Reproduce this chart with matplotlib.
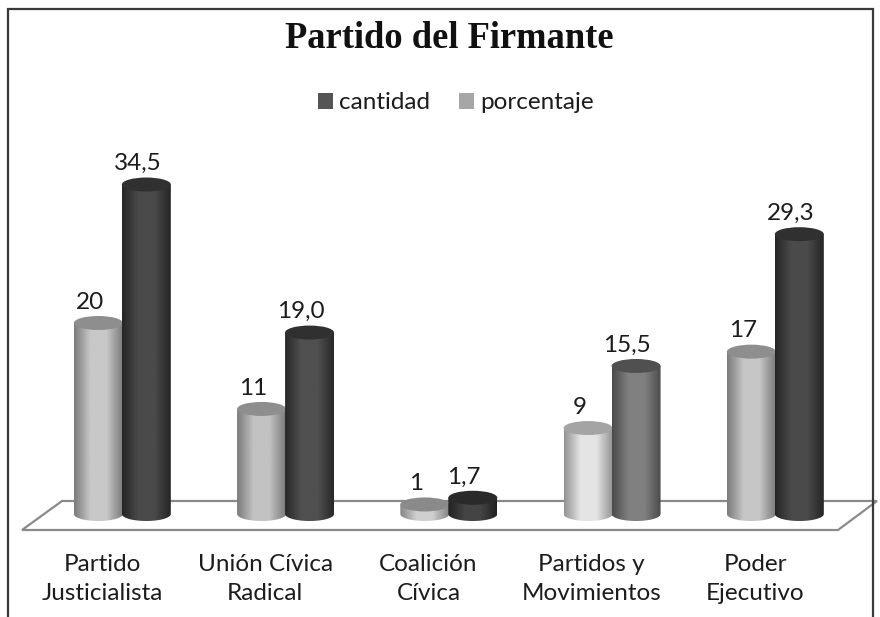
import numpy as np
import matplotlib
matplotlib.use('Agg')
import matplotlib.pyplot as plt
from matplotlib.patches import Ellipse, PathPatch, Polygon, Patch, Rectangle
from matplotlib.path import Path
from matplotlib.colors import LinearSegmentedColormap

categorias = ['Partido\nJusticialista', 'Unión Cívica\nRadical', 'Coalición\nCívica',
              'Partidos y\nMovimientos', 'Poder\nEjecutivo']
porcentaje = [20, 11, 1, 9, 17]
cantidad = [34.5, 19.0, 1.7, 15.5, 29.3]
etiquetas_porcentaje = ['20', '11', '1', '9', '17']
etiquetas_cantidad = ['34,5', '19,0', '1,7', '15,5', '29,3']

# tonos de cada cilindro: borde, centro, tapa
tonos_porcentaje = [('#7c7c7c', '#c8c8c8', '#8e8e8e'), ('#7c7c7c', '#c2c2c2', '#8e8e8e'),
                    ('#868686', '#cfcfcf', '#8a8a8a'), ('#949494', '#e4e4e4', '#a4a4a4'),
                    ('#7c7c7c', '#c6c6c6', '#8e8e8e')]
tonos_cantidad = [('#262626', '#4a4a4a', '#303030'), ('#282828', '#505050', '#303030'),
                  ('#222222', '#444444', '#2a2a2a'), ('#4c4c4c', '#808080', '#505050'),
                  ('#262626', '#4a4a4a', '#303030')]

W, H = 880, 617
PX_X = 163.25
PX_Y = 9.55
BASE = 514

fig = plt.figure(figsize=(8.8, 6.17), dpi=100, facecolor='white')
ax = fig.add_axes([0, 0, 1, 1])
ax.axis('off')


def px(x, y):
    return (x / W, 1 - y / H)


def limites():
    ax.set_xlim(-122 / PX_X, (W - 122) / PX_X)
    ax.set_ylim(-(H - BASE) / PX_Y, BASE / PX_Y)


limites()

# marco de la imagen
x0, y0 = px(8, 617)
x1, y1 = px(873, 9)
fig.add_artist(Rectangle((x0, y0 - 0.02), x1 - x0, y1 - y0 + 0.02, fill=False,
                         ec='#3a3a3a', lw=1.6, transform=fig.transFigure))

# piso
piso = [px(22, 530), px(62, 501), px(877, 501), px(838, 530)]
ax.add_patch(Polygon(piso, closed=True, fc='white', ec='#8a8a8a', lw=1.6,
                     transform=fig.transFigure, zorder=1))

ancho = 0.3
desp = 0.145
ry = 7 / PX_Y


def cilindro(x, v, tonos, z):
    borde, centro, tapa = tonos
    izq, der = x - ancho / 2, x + ancho / 2
    t = np.linspace(np.pi, 2 * np.pi, 40)
    xs = x + np.cos(t) * ancho / 2
    ys = np.sin(t) * ry
    verts = [(izq, v)] + list(zip(xs, ys)) + [(der, v), (izq, v)]
    clip = PathPatch(Path(verts), transform=ax.transData, fc='none', ec='none')
    ax.add_patch(clip)
    cmap = LinearSegmentedColormap.from_list('c', [borde, centro, centro, borde])
    grad = np.linspace(0, 1, 64).reshape(1, -1)
    im = ax.imshow(grad, extent=(izq, der, -ry, v), cmap=cmap, aspect='auto',
                   interpolation='bilinear', zorder=z)
    im.set_clip_path(clip)
    ax.add_patch(Ellipse((x, v), ancho, 2 * ry, fc=tapa, ec='none', zorder=z + 0.1))


for i in range(len(categorias)):
    cilindro(i - desp, porcentaje[i], tonos_porcentaje[i], 2)
    cilindro(i + desp + 0.004, cantidad[i], tonos_cantidad[i], 3)
    ax.annotate(etiquetas_porcentaje[i], (i - desp, porcentaje[i]), xytext=(-6, 15),
                textcoords='offset points', ha='center', va='center',
                fontsize=17.5, family='Lato', color='#1c1c1c', zorder=5)
    ax.annotate(etiquetas_cantidad[i], (i + desp, cantidad[i]), xytext=(-6, 15),
                textcoords='offset points', ha='center', va='center',
                fontsize=17.5, family='Lato', color='#1c1c1c', zorder=5)
    ax.text(i - 0.1225, -(579 - BASE) / PX_Y, categorias[i], ha='center', va='center',
            fontsize=17.5, family='Lato', color='#1c1c1c', linespacing=1.46)

limites()

fig.text(449 / W, 1 - 39 / H, 'Partido del Firmante', ha='center', va='center',
         fontsize=26.3, family='Liberation Serif', fontweight='bold', color='#111111')

handles = [Patch(fc='#555555', label='cantidad'), Patch(fc='#a6a6a6', label='porcentaje')]
leg = fig.legend(handles=handles, loc='center', bbox_to_anchor=(456 / W, 1 - 103 / H), ncol=2,
                 frameon=False, handlelength=0.62, handleheight=0.62, handletextpad=0.25,
                 columnspacing=1.2, prop={'family': 'Lato', 'size': 17.5})
for t in leg.get_texts():
    t.set_color('#1c1c1c')

fig.savefig('out.png', dpi=100)
